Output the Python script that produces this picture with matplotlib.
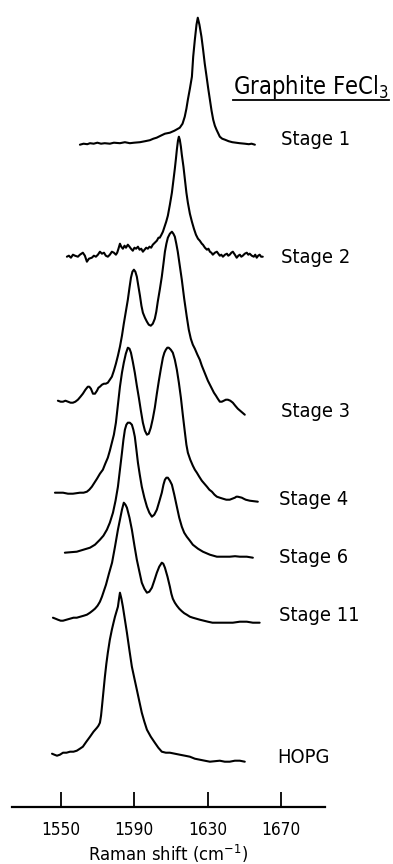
import matplotlib
matplotlib.use("Agg")
import matplotlib.pyplot as plt
from matplotlib import font_manager
from matplotlib.lines import Line2D

# ---- Raman spectra of graphite-FeCl3 intercalation compounds ----
stage_names = ["Stage 1", "Stage 2", "Stage 3", "Stage 4", "Stage 6", "Stage 11", "HOPG"]

shift_s1 = [1560.5, 1562.5, 1564.5, 1566.0, 1568.0, 1570.0, 1572.0, 1574.0, 1576.8, 1579.0,
            1582.3, 1585.0, 1587.7, 1590.0, 1593.2, 1596.0, 1598.6, 1600.5, 1602.3, 1604.5,
            1606.8, 1609.5, 1612.0, 1614.9, 1616.4, 1617.6, 1618.5, 1619.3, 1620.4, 1621.5,
            1622.2, 1623.1, 1624.0, 1624.7, 1625.6, 1626.7, 1627.6, 1628.5, 1629.5, 1630.4,
            1631.3, 1632.2, 1633.1, 1634.0, 1634.9, 1636.7, 1638.0, 1639.5, 1641.5, 1643.5,
            1645.5, 1647.5, 1650.3, 1652.5, 1654.0, 1655.8]
int_s1 = [-1, 0, -0.5, 0.5, 0, 1, 0, 0.5, 0, 1,
          0.5, 1.5, 0.5, 1, 1.5, 2.5, 3.5, 5, 6, 8,
          10, 11, 13, 16, 20, 27, 35, 44, 55, 67,
          87, 104, 119, 126, 119, 107, 94, 80, 67, 55,
          44, 33, 24, 18, 14, 7, 5, 4, 2.5, 1.5,
          1, 0.5, 0, -0.5, 0, -1]

shift_s2 = [1553.4, 1554.5, 1555.6, 1556.7, 1557.8, 1559.4, 1560.5, 1562.1, 1563.2, 1564.3,
            1565.4, 1567.0, 1568.1, 1569.2, 1570.3, 1571.4, 1572.5, 1573.6, 1574.6, 1575.7,
            1576.8, 1577.9, 1579.0, 1580.1, 1580.8, 1581.5, 1582.3, 1583.0, 1583.9, 1584.8,
            1585.6, 1586.6, 1587.5, 1588.3, 1589.3, 1590.2, 1591.1, 1592.1, 1593.0, 1593.9,
            1594.8, 1595.7, 1596.6, 1597.5, 1598.4, 1599.3, 1600.2, 1601.3, 1602.4, 1603.3,
            1604.0, 1604.9, 1605.7, 1606.6, 1607.5, 1608.4, 1609.5, 1610.6, 1611.4, 1612.2,
            1612.8, 1613.3, 1613.9, 1614.4, 1614.9, 1615.5, 1616.0, 1616.9, 1617.7, 1618.5,
            1619.3, 1620.4, 1621.5, 1622.6, 1623.7, 1624.8, 1625.8, 1626.9, 1627.5, 1628.6,
            1629.7, 1630.5, 1631.3, 1632.1, 1632.9, 1634.0, 1635.1, 1635.9, 1636.7, 1637.5,
            1638.4, 1639.5, 1640.6, 1641.3, 1642.1, 1643.0, 1643.8, 1644.9, 1645.9, 1646.8,
            1647.6, 1648.4, 1649.2, 1650.3, 1651.4, 1652.2, 1653.0, 1654.1, 1655.2, 1656.0,
            1656.8, 1657.6, 1658.4, 1659.2, 1660.1]
int_s2 = [0, 1, -1, 2, 1, 0, 2, 4, 1, -5,
          -2, -1, 1, 0, 2, 5, 3, 4, 1, 0,
          2, 5, 4, 2, 4, 8, 13, 10, 8, 11,
          9, 12, 10, 8, 6, 9, 8, 10, 7, 8,
          5, 7, 9, 8, 10, 9, 12, 14, 16, 19,
          19, 22, 25, 30, 35, 41, 52, 64, 76, 88,
          98, 107, 116, 120, 117, 110, 102, 90, 77, 64,
          54, 43, 35, 28, 22, 18, 16, 13, 12, 9,
          7, 8, 5, 4, 2, 4, 5, 3, 1, 2,
          0, 2, 3, 1, 2, 4, 5, 2, -1, 1,
          2, 0, 1, 3, 4, 2, 3, 1, 0, 2,
          -1, 1, 2, 0, 0]

shift_s3 = [1548.5, 1550.0, 1551.3, 1552.6, 1554.0, 1555.4, 1556.7, 1558.0, 1559.4, 1560.8,
            1562.1, 1563.5, 1564.8, 1565.6, 1566.5, 1567.6, 1568.7, 1569.8, 1570.6, 1571.4,
            1572.5, 1573.6, 1574.6, 1575.7, 1576.8, 1577.9, 1579.0, 1580.1, 1581.2, 1582.3,
            1583.4, 1584.4, 1585.5, 1586.6, 1587.5, 1588.3, 1589.1, 1589.9, 1590.7, 1591.5,
            1592.3, 1593.2, 1594.0, 1594.8, 1595.9, 1597.0, 1598.0, 1599.1, 1600.2, 1601.3,
            1602.1, 1602.9, 1604.0, 1605.1, 1606.0, 1606.8, 1607.6, 1608.4, 1609.5, 1610.6,
            1611.4, 1612.2, 1613.0, 1613.8, 1614.9, 1616.0, 1617.3, 1618.7, 1619.8, 1620.9,
            1622.0, 1623.1, 1624.5, 1625.8, 1626.9, 1628.0, 1629.1, 1630.2, 1631.3, 1632.4,
            1633.5, 1634.6, 1635.6, 1636.7, 1637.8, 1638.9, 1640.0, 1641.1, 1642.4, 1643.8,
            1645.1, 1646.5, 1648.4, 1650.3]
int_s3 = [1, 0, 0, 1, 0, -1, -1, 0, 2, 5,
          8, 12, 15, 15, 13, 8, 8, 11, 14, 15,
          17, 18, 18, 19, 22, 25, 31, 38, 46, 55,
          66, 78, 90, 102, 114, 124, 130, 132, 130, 125,
          116, 106, 96, 89, 84, 80, 77, 76, 78, 83,
          90, 100, 112, 125, 138, 150, 158, 164, 168, 170,
          168, 165, 158, 150, 136, 122, 103, 85, 72, 63,
          57, 53, 47, 42, 36, 31, 26, 21, 17, 13,
          9, 6, 3, 0, 0, 1, 2, 2, 1, -1,
          -4, -7, -10, -13]

shift_s4 = [1546.9, 1549.0, 1551.3, 1554.0, 1556.7, 1558.6, 1560.5, 1562.5, 1564.3, 1565.6,
            1567.0, 1568.4, 1569.8, 1571.4, 1573.0, 1574.3, 1575.7, 1576.8, 1577.9, 1579.0,
            1580.1, 1581.2, 1582.3, 1583.4, 1584.4, 1585.5, 1586.6, 1587.5, 1588.3, 1589.3,
            1590.4, 1591.5, 1592.6, 1593.7, 1594.8, 1595.9, 1597.0, 1598.0, 1599.1, 1600.2,
            1601.3, 1602.4, 1603.5, 1604.6, 1605.7, 1606.5, 1607.3, 1608.1, 1608.9, 1610.0,
            1611.1, 1612.2, 1613.3, 1614.4, 1615.5, 1616.6, 1617.7, 1618.5, 1619.3, 1620.6,
            1622.0, 1623.1, 1624.2, 1625.5, 1626.9, 1628.3, 1629.7, 1631.0, 1632.4, 1633.8,
            1635.1, 1636.7, 1638.4, 1640.2, 1642.1, 1643.5, 1644.9, 1645.7, 1646.5, 1647.6,
            1648.7, 1649.7, 1650.8, 1653.0, 1655.2, 1657.4]
int_s4 = [0, 0, 0, -1, -1, -0.5, 0, 0, 1, 3,
          6, 10, 14, 19, 23, 29, 35, 42, 50, 58,
          70, 88, 106, 120, 130, 139, 145, 144, 140, 131,
          120, 107, 95, 82, 70, 62, 58, 59, 65, 74,
          85, 99, 112, 124, 135, 140, 143, 145, 145, 143,
          140, 133, 123, 110, 95, 77, 60, 48, 40, 33,
          27, 23, 20, 16, 12, 9, 6, 3, 1, -2,
          -4, -5, -6, -7, -7, -6, -5, -4, -4, -4.5,
          -5, -6, -7, -8, -8.5, -9]

shift_s6 = [1552.3, 1555.5, 1558.8, 1562.4, 1566.0, 1568.7, 1571.4, 1573.3, 1575.2, 1576.8,
            1578.5, 1579.9, 1581.2, 1582.3, 1583.4, 1584.2, 1585.0, 1585.8, 1586.6, 1587.7,
            1588.8, 1589.6, 1590.4, 1591.2, 1592.1, 1593.1, 1594.2, 1595.6, 1597.0, 1598.3,
            1599.7, 1601.0, 1602.4, 1603.7, 1605.1, 1606.0, 1606.8, 1607.6, 1608.4, 1609.5,
            1610.6, 1611.9, 1613.3, 1614.6, 1616.0, 1617.3, 1618.7, 1620.4, 1622.0, 1624.8,
            1627.5, 1631.3, 1635.1, 1638.6, 1642.1, 1645.0, 1647.6, 1651.4, 1654.7]
int_s6 = [0, 0.5, 1, 3, 5, 8, 13, 17, 23, 30,
          40, 52, 66, 83, 100, 113, 123, 128, 130, 130,
          128, 123, 116, 104, 90, 78, 66, 55, 46, 40,
          36, 38, 43, 51, 60, 68, 73, 75, 75, 72,
          68, 58, 46, 35, 26, 20, 16, 12, 8, 4,
          1, -2, -4, -4, -4, -3.5, -4, -4, -5]

shift_s11 = [1545.8, 1547.2, 1548.5, 1550.0, 1551.3, 1553.2, 1555.1, 1557.0, 1558.8, 1560.7,
             1562.6, 1564.3, 1566.0, 1567.4, 1568.7, 1570.1, 1571.4, 1572.5, 1573.6, 1574.7,
             1576.3, 1578.0, 1579.6, 1581.2, 1582.3, 1583.4, 1584.4, 1585.3, 1586.1, 1587.5,
             1588.8, 1590.2, 1591.5, 1592.9, 1594.2, 1595.6, 1597.0, 1598.3, 1599.7, 1601.0,
             1602.4, 1603.7, 1605.1, 1605.9, 1606.8, 1608.2, 1609.5, 1610.3, 1611.1, 1612.2,
             1613.3, 1614.6, 1616.0, 1617.3, 1618.7, 1620.4, 1622.0, 1623.9, 1625.8, 1628.0,
             1630.2, 1632.7, 1635.1, 1639.5, 1643.8, 1647.6, 1651.4, 1654.7, 1658.4]
int_s11 = [0, -1, -2, -3, -3, -2, -1, 0, 0, 1,
           2, 3, 5, 7, 9, 12, 16, 21, 27, 33,
           44, 55, 71, 88, 98, 108, 115, 113, 110, 100,
           88, 72, 58, 46, 35, 29, 25, 26, 30, 37,
           45, 51, 55, 54, 50, 41, 31, 24, 19, 15,
           12, 9, 6.5, 4.5, 3, 1, 0, -1, -2, -3,
           -4, -5, -5, -5, -5, -4, -4, -5, -5]

shift_hopg = [1545.3, 1546.6, 1548.0, 1549.6, 1551.3, 1553.2, 1555.1, 1557.0, 1558.8, 1560.5,
              1562.1, 1564.0, 1566.0, 1567.9, 1569.8, 1570.6, 1571.4, 1572.0, 1572.5, 1573.3,
              1574.1, 1574.9, 1575.7, 1576.8, 1577.9, 1578.8, 1579.6, 1580.4, 1581.2, 1581.8,
              1582.3, 1583.1, 1583.9, 1585.0, 1586.1, 1587.5, 1588.8, 1590.2, 1591.5, 1592.9,
              1594.2, 1595.6, 1597.0, 1599.1, 1601.3, 1603.2, 1605.1, 1607.3, 1609.5, 1612.2,
              1614.9, 1617.7, 1620.4, 1623.1, 1625.8, 1628.5, 1631.3, 1634.0, 1636.7, 1639.4,
              1642.1, 1644.9, 1647.6, 1650.3]
int_hopg = [0, -1, -2, -1, 1, 1, 2, 2, 3, 5,
            7, 12, 17, 22, 26, 28, 31, 38, 47, 62,
            77, 90, 101, 114, 124, 131, 137, 142, 147, 155,
            161, 155, 147, 134, 121, 103, 87, 75, 64, 52,
            41, 32, 24, 17, 11, 6, 2, 1, 1, 0,
            -1, -2, -3, -5, -6, -7, -8, -7.5, -7, -8,
            -8, -7, -7, -8]

tick_values = [1550, 1590, 1630, 1670]
x_label = "Raman shift (cm$^{-1}$)"
title_text = "Graphite FeCl$_3$"

# ---- layout ----
baseline_offsets = [663, 550, 405, 314, 254, 189, 53]
label_x = [1670, 1670, 1670, 1669, 1669, 1669, 1668]
label_baseline = [662, 544, 390, 302, 244, 186, 44]

spectra = [(shift_s1, int_s1), (shift_s2, int_s2), (shift_s3, int_s3),
           (shift_s4, int_s4), (shift_s6, int_s6), (shift_s11, int_s11),
           (shift_hopg, int_hopg)]

# pick a narrow sans face if one is installed
available = {f.name for f in font_manager.fontManager.ttflist}
if "Liberation Sans Narrow" in available:
    FONT, STRETCH, SCALE = "Liberation Sans Narrow", "normal", 1.0
else:
    FONT, STRETCH, SCALE = "DejaVu Sans", "condensed", 0.85

plt.rcParams["font.family"] = [FONT, "DejaVu Sans"]
plt.rcParams["font.stretch"] = STRETCH
plt.rcParams["mathtext.fontset"] = "custom"
plt.rcParams["mathtext.rm"] = FONT
plt.rcParams["mathtext.it"] = FONT
plt.rcParams["mathtext.default"] = "rm"

W, H = 393, 864
fig = plt.figure(figsize=(W / 100, H / 100), dpi=100)
ax = fig.add_axes([12 / W, 57.3 / H, 313 / W, 806.7 / H])
ax.set_xlim(1523.5, 1694)
ax.set_ylim(0, 806.7)

for (xs, ys), off in zip(spectra, baseline_offsets):
    ax.plot(xs, [y + off for y in ys], color="black", lw=1.5,
            solid_joinstyle="round", solid_capstyle="round")

for name, lx, ly in zip(stage_names, label_x, label_baseline):
    ax.text(lx, ly, name, fontsize=17 * SCALE, ha="left", va="baseline",
            color="black", clip_on=False)

for side in ("left", "right", "top"):
    ax.spines[side].set_visible(False)
ax.spines["bottom"].set_linewidth(1.6)
ax.set_yticks([])
ax.set_xticks(tick_values)
ax.set_xticklabels([str(t) for t in tick_values])
ax.tick_params(axis="x", direction="in", length=11, width=1.3, pad=10,
               labelsize=14.5 * SCALE)
ax.set_xlabel(x_label, fontsize=15.5 * SCALE, labelpad=3)

title = fig.text(233 / W, 1 - 94 / H, title_text, fontsize=20 * SCALE,
                 ha="left", va="baseline")

# underline beneath the title, spanning its width
fig.canvas.draw()
bb = title.get_window_extent(fig.canvas.get_renderer())
y_line = 1 - 100 / H
fig.add_artist(Line2D([bb.x0 / W, bb.x1 / W], [y_line, y_line],
                      transform=fig.transFigure, color="black", lw=1.3))

fig.savefig("out.png", dpi=100)
